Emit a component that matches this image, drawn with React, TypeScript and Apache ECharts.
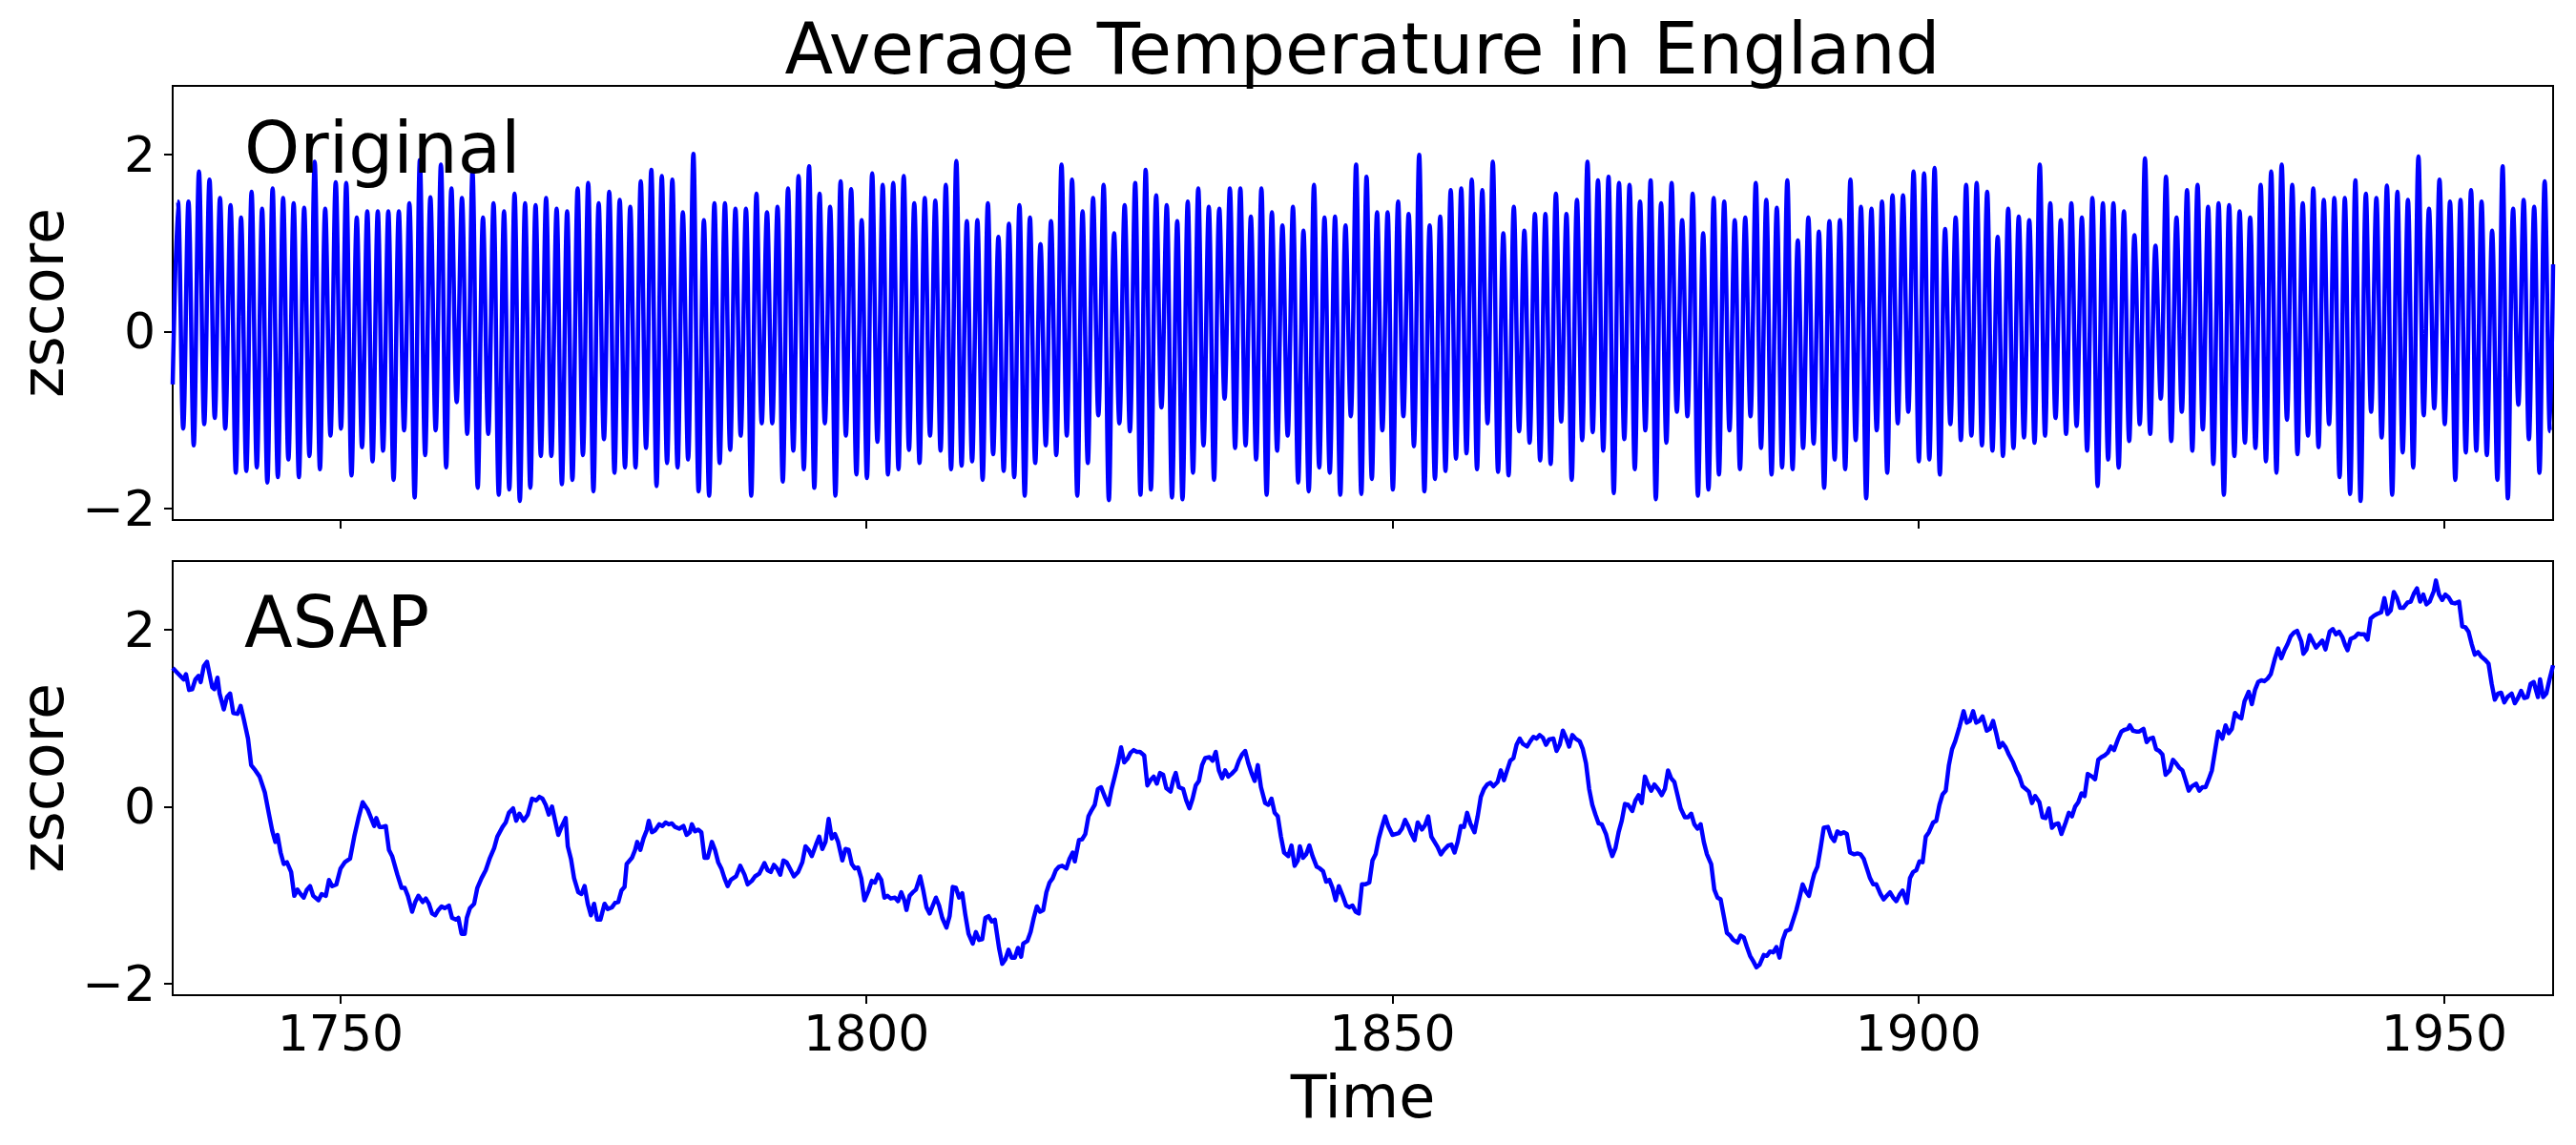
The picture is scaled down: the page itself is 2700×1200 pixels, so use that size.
import React, { useEffect, useRef } from "react";
import * as echarts from "echarts";

const FONT = '"DejaVu Sans", "Liberation Sans", sans-serif';
const TITLE = "Average Temperature in England";
const PANEL_LABELS = ["Original", "ASAP"];
const X_LABEL = "Time";
const Y_LABEL = "zscore";
const X_TICKS = [1750, 1800, 1850, 1900, 1950];
const Y_TICKS = [-2, 0, 2];
const X_MIN = 1734.04;
const X_MAX = 1960.34;
const Y_MIN = -2.135;
const Y_MAX = 2.78;

// Original monthly series: yearly summer maxima (1734..1959) and winter minima (1735..1960)
const originalStart = -0.6;
const originalEnd = 0.76;
const firstPeakYear = 1734;
const summerPeaks = [
  1.47, 1.47, 1.81, 1.72, 1.51, 1.43, 1.29, 1.58, 1.39, 1.62, 1.51, 1.45, 1.40, 1.92, 1.39, 1.69, 1.68, 1.29, 1.36, 1.36,
  1.36, 1.36, 1.45, 1.94, 1.52, 1.89, 1.62, 1.51, 1.81, 1.29, 1.45, 1.36, 1.56, 1.45, 1.43, 1.51, 1.39, 1.36, 1.62, 1.68,
  1.45, 1.58, 1.49, 1.41, 1.70,
  1.83, 1.76, 1.72, 1.35, 2.01, 1.26, 1.45, 1.45, 1.39, 1.39, 1.56, 1.35, 1.41, 1.62, 1.76, 1.87, 1.56, 1.41, 1.70, 1.61,
  1.26, 1.79, 1.66, 1.68, 1.76, 1.45, 1.51, 1.48, 1.66, 1.93, 1.25, 1.26, 1.45, 1.07, 1.22, 1.43, 1.29, 0.99, 1.25, 1.89,
  1.72, 1.36, 1.51, 1.66, 1.11,
  1.43, 1.68, 1.83, 1.54, 1.43, 1.25, 1.47, 1.62, 1.41, 1.39, 1.62, 1.62, 1.30, 1.62, 1.35, 1.20, 1.41, 1.14, 1.66, 1.29,
  1.30, 1.20, 1.89, 1.75, 1.35, 1.35, 1.47, 1.33, 2.00, 1.20, 1.30, 1.60, 1.62, 1.72, 1.60, 1.92, 1.11, 1.41, 1.14, 1.33,
  1.33, 1.56, 1.33, 1.49, 1.92,
  1.71, 1.75, 1.68, 1.66, 1.47, 1.71, 1.45, 1.68, 1.26, 1.56, 1.11, 1.51, 1.47, 1.26, 1.29, 1.68, 1.49, 1.40, 1.71, 1.03,
  1.29, 1.13, 1.25, 1.26, 1.72, 1.41, 1.39, 1.47, 1.54, 1.54, 1.81, 1.79, 1.85, 1.16, 1.29, 1.66, 1.68, 1.58, 1.07, 1.39,
  1.30, 1.26, 1.89, 1.45,
  1.26, 1.45, 1.29, 1.51, 1.45, 1.45, 1.36, 1.09, 1.96, 0.97, 1.75, 1.29, 1.60, 1.66, 1.41, 1.45, 1.43, 1.36, 1.29, 1.66,
  1.81, 1.89, 1.66, 1.45, 1.62, 1.49, 1.51, 1.51, 1.71, 1.56, 1.51, 1.65, 1.58, 1.49, 1.98, 1.39, 1.72, 1.47, 1.49, 1.60,
  1.47, 1.14, 1.87, 1.39, 1.49, 1.41, 1.70,
];
const winterTroughs = [
  -1.10, -1.29, -1.05, -0.98, -1.10, -1.60, -1.58, -1.54, -1.71, -1.65, -1.45, -1.65, -1.41, -1.56, -1.18, -1.10, -1.63, -1.31, -1.47, -1.35,
  -1.68, -1.12, -1.88, -1.40, -1.12, -1.54, -0.80, -1.16, -1.77, -1.16, -1.85, -1.79, -1.92, -1.77, -1.41, -1.41, -1.73, -1.68, -1.40, -1.81,
  -1.22, -1.60, -1.54, -1.54,
  -1.32, -1.75, -1.49, -1.54, -1.45, -1.81, -1.86, -1.49, -1.34, -1.18, -1.86, -1.04, -1.04, -1.70, -1.35, -1.56, -1.77, -1.04, -1.86, -1.18,
  -1.62, -1.66, -1.25, -1.62, -1.56, -1.34, -1.49, -1.18, -1.35, -1.56, -1.52, -1.47, -1.68, -1.39, -1.58, -1.65, -1.86, -1.49, -1.29, -1.40,
  -1.18, -1.86, -1.49, -0.95, -1.91,
  -1.04, -1.13, -1.85, -1.79, -0.86, -1.88, -1.90, -1.60, -1.29, -1.68, -0.76, -1.32, -1.29, -1.45, -1.85, -1.35, -1.18, -1.71, -1.81, -1.54,
  -1.60, -1.85, -0.96, -1.84, -1.67, -1.12, -1.79, -0.96, -1.30, -1.81, -1.67, -1.58, -1.44, -1.38, -1.56, -1.04, -1.59, -1.63, -1.13, -1.26,
  -1.46, -1.50, -1.02, -1.68, -1.23,
  -1.14, -1.35, -1.83, -1.22, -1.56, -1.12, -1.90, -1.26, -0.91, -0.96, -1.86, -1.79, -1.62, -1.12, -1.56, -0.96, -1.32, -1.62, -1.54, -1.56,
  -1.32, -1.27, -1.77, -1.45, -1.56, -1.23, -1.89, -1.12, -1.60, -1.04, -0.91, -1.47, -1.45, -1.62, -1.05, -1.23, -1.18, -1.29, -1.35, -1.41,
  -1.32, -1.20, -1.26, -1.18, -0.98,
  -1.16, -1.07, -1.35, -1.75, -1.45, -1.54, -1.24, -1.05, -1.16, -0.76, -1.24, -0.91, -1.35, -1.11, -1.50, -1.85, -1.41, -1.26, -1.32, -1.47,
  -1.60, -1.00, -1.39, -1.18, -1.31, -1.05, -1.65, -1.84, -1.92, -0.91, -1.20, -1.85, -1.37, -1.54, -0.95, -0.87, -1.05, -1.68, -1.37, -1.35,
  -1.40, -1.68, -1.89, -0.83, -1.22, -1.60, -1.13,
];

// ASAP smoothed series: [year, zscore]
const asapPoints: [number, number][] = [
  [1734.04, 1.57], [1734.6, 1.50], [1735.1, 1.44], [1735.3, 1.50], [1735.6, 1.32], [1735.9, 1.33], [1736.2, 1.44], [1736.5, 1.48],
  [1736.7, 1.41], [1737.0, 1.59], [1737.3, 1.64], [1737.8, 1.35], [1738.0, 1.33], [1738.3, 1.46], [1738.5, 1.28], [1738.9, 1.10],
  [1739.2, 1.24], [1739.5, 1.28], [1739.8, 1.06], [1740.2, 1.05], [1740.5, 1.14], [1740.8, 0.99], [1741.2, 0.77], [1741.5, 0.47],
  [1741.9, 0.41], [1742.3, 0.34], [1742.8, 0.16], [1743.2, -0.09], [1743.5, -0.27], [1743.8, -0.40], [1744.0, -0.32], [1744.3, -0.52],
  [1744.6, -0.65], [1744.9, -0.63], [1745.3, -0.74], [1745.6, -1.01], [1745.9, -0.94], [1746.2, -0.99], [1746.5, -1.03], [1746.8, -0.94],
  [1747.1, -0.90], [1747.4, -1.01], [1747.9, -1.06], [1748.2, -0.99], [1748.6, -1.01], [1748.9, -0.83], [1749.2, -0.90], [1749.6, -0.88],
  [1750.0, -0.70], [1750.4, -0.63], [1750.9, -0.59], [1751.3, -0.34], [1751.7, -0.13], [1752.1, 0.05], [1752.6, -0.04], [1752.9, -0.13],
  [1753.2, -0.22], [1753.4, -0.13], [1753.7, -0.23], [1754.0, -0.23], [1754.3, -0.22], [1754.6, -0.49], [1754.9, -0.56], [1755.4, -0.77],
  [1755.8, -0.92], [1756.1, -0.92], [1756.4, -1.01], [1756.8, -1.19], [1757.1, -1.08], [1757.4, -1.01], [1757.8, -1.08], [1758.1, -1.04],
  [1758.4, -1.10], [1758.7, -1.21], [1759.0, -1.23], [1759.3, -1.17], [1759.6, -1.13], [1759.9, -1.15], [1760.3, -1.12], [1760.6, -1.26],
  [1761.0, -1.28], [1761.2, -1.26], [1761.5, -1.44], [1761.8, -1.44], [1762.0, -1.26], [1762.3, -1.15], [1762.7, -1.10], [1763.0, -0.92],
  [1763.4, -0.81], [1763.8, -0.72], [1764.2, -0.58], [1764.6, -0.47], [1764.9, -0.34], [1765.4, -0.23], [1765.7, -0.18], [1766.0, -0.07],
  [1766.4, -0.02], [1766.7, -0.16], [1767.0, -0.08], [1767.4, -0.16], [1767.8, -0.09], [1768.2, 0.09], [1768.6, 0.07], [1768.9, 0.11],
  [1769.2, 0.09], [1769.5, 0.02], [1769.8, -0.09], [1770.1, 0.00], [1770.4, -0.16], [1770.7, -0.32], [1771.0, -0.23], [1771.4, -0.13],
  [1771.6, -0.45], [1771.9, -0.59], [1772.2, -0.81], [1772.6, -0.97], [1772.9, -0.99], [1773.2, -0.90], [1773.5, -1.10], [1773.8, -1.23],
  [1774.1, -1.10], [1774.4, -1.28], [1774.7, -1.28], [1775.1, -1.10], [1775.4, -1.16], [1775.8, -1.14], [1776.1, -1.09], [1776.4, -1.08],
  [1776.7, -0.95], [1777.0, -0.91], [1777.2, -0.65], [1777.7, -0.58], [1778.0, -0.49], [1778.2, -0.40], [1778.5, -0.49], [1778.8, -0.36],
  [1779.1, -0.27], [1779.3, -0.16], [1779.6, -0.29], [1779.9, -0.27], [1780.3, -0.20], [1780.6, -0.22], [1780.9, -0.18], [1781.2, -0.20],
  [1781.5, -0.19], [1781.8, -0.23], [1782.2, -0.25], [1782.6, -0.22], [1782.9, -0.32], [1783.2, -0.29], [1783.4, -0.20], [1783.7, -0.28],
  [1784.0, -0.26], [1784.3, -0.29], [1784.6, -0.58], [1784.9, -0.58], [1785.3, -0.40], [1785.6, -0.49], [1785.9, -0.63], [1786.2, -0.70],
  [1786.5, -0.81], [1786.8, -0.90], [1787.1, -0.83], [1787.6, -0.79], [1788.0, -0.67], [1788.4, -0.77], [1788.7, -0.88], [1789.1, -0.84],
  [1789.4, -0.79], [1789.8, -0.76], [1790.3, -0.64], [1790.6, -0.72], [1790.9, -0.74], [1791.2, -0.66], [1791.5, -0.70], [1791.8, -0.77],
  [1792.1, -0.61], [1792.4, -0.63], [1792.8, -0.72], [1793.1, -0.79], [1793.5, -0.74], [1793.9, -0.63], [1794.2, -0.45], [1794.5, -0.49],
  [1794.8, -0.56], [1795.2, -0.43], [1795.5, -0.34], [1795.8, -0.48], [1796.1, -0.40], [1796.4, -0.14], [1796.7, -0.36], [1797.0, -0.31],
  [1797.3, -0.40], [1797.7, -0.61], [1798.0, -0.48], [1798.3, -0.49], [1798.6, -0.65], [1798.9, -0.70], [1799.2, -0.69], [1799.5, -0.81],
  [1799.8, -1.06], [1800.2, -0.95], [1800.5, -0.84], [1800.8, -0.86], [1801.1, -0.77], [1801.4, -0.83], [1801.7, -1.03], [1802.0, -1.01],
  [1802.3, -1.04], [1802.7, -1.03], [1803.0, -1.07], [1803.3, -0.97], [1803.6, -1.06], [1803.8, -1.17], [1804.1, -1.01], [1804.4, -0.97],
  [1804.7, -0.94], [1805.1, -0.79], [1805.4, -0.95], [1805.7, -1.14], [1806.0, -1.21], [1806.3, -1.12], [1806.6, -1.03], [1806.9, -1.12],
  [1807.2, -1.26], [1807.6, -1.37], [1807.9, -1.24], [1808.2, -0.91], [1808.5, -0.92], [1808.8, -1.03], [1809.1, -0.98], [1809.4, -1.23],
  [1809.7, -1.44], [1810.1, -1.55], [1810.4, -1.42], [1810.7, -1.51], [1811.0, -1.50], [1811.3, -1.26], [1811.6, -1.24], [1811.9, -1.30],
  [1812.2, -1.28], [1812.6, -1.60], [1812.9, -1.78], [1813.2, -1.73], [1813.5, -1.62], [1813.8, -1.71], [1814.1, -1.71], [1814.4, -1.60],
  [1814.7, -1.70], [1814.9, -1.55], [1815.3, -1.52], [1815.6, -1.42], [1815.9, -1.26], [1816.2, -1.13], [1816.5, -1.19], [1816.8, -1.17],
  [1817.1, -0.97], [1817.4, -0.86], [1817.7, -0.81], [1818.0, -0.72], [1818.3, -0.68], [1818.6, -0.67], [1819.0, -0.70], [1819.3, -0.59],
  [1819.6, -0.52], [1819.8, -0.62], [1820.2, -0.38], [1820.5, -0.37], [1820.8, -0.31], [1821.1, -0.11], [1821.4, -0.04], [1821.7, 0.02],
  [1822.0, 0.20], [1822.3, 0.22], [1822.7, 0.10], [1823.0, 0.02], [1823.3, 0.20], [1823.6, 0.34], [1823.9, 0.49], [1824.2, 0.67],
  [1824.5, 0.50], [1824.8, 0.54], [1825.1, 0.61], [1825.4, 0.64], [1825.7, 0.62], [1826.0, 0.62], [1826.4, 0.58], [1826.7, 0.24],
  [1827.0, 0.30], [1827.3, 0.34], [1827.6, 0.26], [1827.9, 0.38], [1828.2, 0.36], [1828.5, 0.21], [1828.9, 0.17], [1829.2, 0.32],
  [1829.4, 0.38], [1829.7, 0.22], [1830.1, 0.20], [1830.4, 0.07], [1830.7, -0.02], [1831.0, 0.09], [1831.3, 0.24], [1831.6, 0.29],
  [1831.9, 0.47], [1832.2, 0.55], [1832.6, 0.56], [1832.9, 0.52], [1833.2, 0.62], [1833.5, 0.41], [1833.8, 0.32], [1834.1, 0.41],
  [1834.4, 0.34], [1834.7, 0.37], [1835.1, 0.42], [1835.4, 0.52], [1835.7, 0.59], [1836.0, 0.63], [1836.3, 0.49], [1836.6, 0.38],
  [1836.9, 0.29], [1837.2, 0.47], [1837.5, 0.22], [1837.9, 0.04], [1838.2, 0.02], [1838.5, 0.09], [1838.8, -0.07], [1839.1, -0.11],
  [1839.4, -0.34], [1839.7, -0.52], [1840.1, -0.56], [1840.4, -0.44], [1840.7, -0.67], [1841.0, -0.61], [1841.2, -0.45], [1841.5, -0.58],
  [1841.8, -0.54], [1842.1, -0.44], [1842.4, -0.56], [1842.8, -0.68], [1843.1, -0.70], [1843.4, -0.73], [1843.7, -0.85], [1844.0, -0.83],
  [1844.3, -0.92], [1844.6, -1.06], [1844.9, -0.90], [1845.3, -1.02], [1845.6, -1.12], [1845.9, -1.14], [1846.2, -1.12], [1846.5, -1.19],
  [1846.8, -1.21], [1847.1, -0.88], [1847.4, -0.88], [1847.8, -0.86], [1848.1, -0.61], [1848.4, -0.54], [1848.7, -0.36], [1849.0, -0.23],
  [1849.3, -0.11], [1849.6, -0.22], [1850.0, -0.32], [1850.3, -0.31], [1850.6, -0.30], [1850.9, -0.25], [1851.2, -0.15], [1851.5, -0.22],
  [1851.8, -0.31], [1852.1, -0.38], [1852.4, -0.18], [1852.8, -0.26], [1853.1, -0.21], [1853.4, -0.11], [1853.7, -0.34], [1854.0, -0.40],
  [1854.3, -0.46], [1854.6, -0.54], [1854.9, -0.49], [1855.3, -0.44], [1855.6, -0.43], [1855.9, -0.52], [1856.2, -0.40], [1856.5, -0.22],
  [1856.8, -0.23], [1857.1, -0.07], [1857.4, -0.19], [1857.8, -0.29], [1858.1, -0.11], [1858.4, 0.11], [1858.7, 0.20], [1859.0, 0.25],
  [1859.3, 0.27], [1859.6, 0.23], [1860.0, 0.28], [1860.3, 0.41], [1860.6, 0.30], [1860.9, 0.41], [1861.2, 0.52], [1861.5, 0.55],
  [1861.8, 0.70], [1862.1, 0.77], [1862.4, 0.71], [1862.8, 0.68], [1863.1, 0.74], [1863.4, 0.79], [1863.7, 0.77], [1864.0, 0.81],
  [1864.3, 0.78], [1864.6, 0.70], [1864.9, 0.76], [1865.3, 0.77], [1865.6, 0.63], [1865.9, 0.70], [1866.2, 0.86], [1866.5, 0.78],
  [1866.8, 0.68], [1867.1, 0.81], [1867.4, 0.77], [1867.8, 0.74], [1868.1, 0.65], [1868.4, 0.49], [1868.7, 0.20], [1869.0, 0.02],
  [1869.3, -0.09], [1869.6, -0.19], [1869.9, -0.20], [1870.3, -0.31], [1870.6, -0.45], [1870.9, -0.56], [1871.2, -0.47], [1871.5, -0.29],
  [1871.8, -0.16], [1872.1, 0.03], [1872.4, 0.02], [1872.8, -0.05], [1873.1, 0.07], [1873.4, 0.13], [1873.7, 0.04], [1874.0, 0.34],
  [1874.3, 0.25], [1874.6, 0.18], [1874.9, 0.25], [1875.3, 0.19], [1875.6, 0.13], [1875.9, 0.20], [1876.2, 0.41], [1876.5, 0.32],
  [1876.8, 0.28], [1877.1, 0.13], [1877.4, -0.02], [1877.8, -0.12], [1878.1, -0.12], [1878.4, -0.08], [1878.7, -0.20], [1879.0, -0.25],
  [1879.3, -0.20], [1879.6, -0.40], [1879.9, -0.54], [1880.3, -0.65], [1880.6, -0.94], [1880.9, -1.03], [1881.2, -1.05], [1881.5, -1.24],
  [1881.8, -1.43], [1882.1, -1.46], [1882.4, -1.51], [1882.8, -1.54], [1883.1, -1.46], [1883.4, -1.48], [1883.7, -1.59], [1884.0, -1.69],
  [1884.3, -1.75], [1884.6, -1.82], [1884.9, -1.79], [1885.3, -1.68], [1885.6, -1.69], [1885.9, -1.64], [1886.2, -1.65], [1886.5, -1.59],
  [1886.8, -1.71], [1887.1, -1.51], [1887.4, -1.41], [1887.8, -1.39], [1888.1, -1.28], [1888.4, -1.17], [1888.7, -1.03], [1889.0, -0.88],
  [1889.3, -0.96], [1889.6, -1.01], [1889.9, -0.85], [1890.1, -0.76], [1890.4, -0.68], [1890.7, -0.47], [1891.0, -0.24], [1891.4, -0.23],
  [1891.7, -0.34], [1892.0, -0.39], [1892.3, -0.28], [1892.6, -0.31], [1892.9, -0.29], [1893.2, -0.31], [1893.5, -0.52], [1893.9, -0.54],
  [1894.2, -0.53], [1894.5, -0.54], [1894.8, -0.59], [1895.1, -0.70], [1895.4, -0.81], [1895.7, -0.88], [1896.0, -0.88], [1896.4, -0.99],
  [1896.7, -1.05], [1897.0, -1.01], [1897.3, -0.97], [1897.6, -1.03], [1897.9, -1.07], [1898.2, -1.00], [1898.5, -0.95], [1898.9, -1.09],
  [1899.2, -0.81], [1899.5, -0.74], [1899.8, -0.72], [1900.1, -0.62], [1900.4, -0.63], [1900.7, -0.34], [1901.0, -0.29], [1901.4, -0.18],
  [1901.7, -0.16], [1902.0, 0.02], [1902.3, 0.14], [1902.6, 0.18], [1902.9, 0.47], [1903.2, 0.65], [1903.5, 0.74], [1903.9, 0.90],
  [1904.3, 1.08], [1904.6, 0.95], [1904.9, 0.97], [1905.2, 1.08], [1905.5, 0.95], [1905.8, 0.97], [1906.1, 1.02], [1906.5, 0.86],
  [1906.8, 0.88], [1907.1, 0.97], [1907.4, 0.83], [1907.7, 0.67], [1908.0, 0.72], [1908.3, 0.67], [1908.6, 0.59], [1909.0, 0.50],
  [1909.3, 0.41], [1909.6, 0.34], [1909.9, 0.23], [1910.2, 0.20], [1910.5, 0.17], [1910.8, 0.04], [1911.1, 0.12], [1911.5, 0.05],
  [1911.8, -0.12], [1912.1, -0.13], [1912.4, -0.02], [1912.7, -0.24], [1913.0, -0.20], [1913.3, -0.19], [1913.6, -0.31], [1914.0, -0.18],
  [1914.3, -0.07], [1914.6, -0.11], [1914.9, 0.00], [1915.2, 0.05], [1915.5, 0.15], [1915.8, 0.12], [1916.1, 0.37], [1916.5, 0.34],
  [1916.8, 0.31], [1917.1, 0.53], [1917.4, 0.56], [1917.7, 0.58], [1918.0, 0.61], [1918.3, 0.68], [1918.6, 0.64], [1919.0, 0.77],
  [1919.3, 0.85], [1919.6, 0.87], [1919.9, 0.88], [1920.1, 0.92], [1920.4, 0.86], [1920.7, 0.85], [1921.0, 0.85], [1921.4, 0.88],
  [1921.7, 0.73], [1922.0, 0.77], [1922.3, 0.78], [1922.6, 0.65], [1922.9, 0.63], [1923.2, 0.59], [1923.5, 0.36], [1923.9, 0.41],
  [1924.2, 0.53], [1924.5, 0.49], [1924.8, 0.44], [1925.1, 0.41], [1925.4, 0.30], [1925.7, 0.18], [1926.0, 0.23], [1926.4, 0.26],
  [1926.7, 0.18], [1927.0, 0.22], [1927.3, 0.22], [1927.6, 0.31], [1927.9, 0.41], [1928.2, 0.63], [1928.5, 0.85], [1928.9, 0.77],
  [1929.2, 0.92], [1929.5, 0.83], [1929.8, 0.88], [1930.1, 1.06], [1930.4, 1.02], [1930.7, 1.00], [1931.0, 1.19], [1931.4, 1.30],
  [1931.7, 1.16], [1932.0, 1.32], [1932.3, 1.41], [1932.6, 1.43], [1932.9, 1.42], [1933.2, 1.45], [1933.5, 1.50], [1933.9, 1.68],
  [1934.2, 1.79], [1934.5, 1.68], [1934.8, 1.77], [1935.1, 1.84], [1935.4, 1.93], [1935.7, 1.97], [1936.0, 1.99], [1936.4, 1.87],
  [1936.6, 1.73], [1936.9, 1.78], [1937.2, 1.94], [1937.5, 1.87], [1937.8, 1.80], [1938.1, 1.84], [1938.4, 1.88], [1938.7, 1.78],
  [1939.1, 1.98], [1939.4, 2.01], [1939.7, 1.95], [1940.0, 1.98], [1940.3, 1.92], [1940.6, 1.82], [1940.8, 1.77], [1941.1, 1.90],
  [1941.5, 1.92], [1941.8, 1.96], [1942.1, 1.95], [1942.4, 1.95], [1942.7, 1.89], [1943.0, 2.13], [1943.3, 2.16], [1943.6, 2.18],
  [1944.0, 2.20], [1944.3, 2.36], [1944.6, 2.18], [1944.9, 2.22], [1945.2, 2.43], [1945.5, 2.36], [1945.8, 2.25], [1946.1, 2.25],
  [1946.5, 2.31], [1946.8, 2.32], [1947.1, 2.41], [1947.4, 2.47], [1947.7, 2.32], [1948.0, 2.40], [1948.3, 2.29], [1948.6, 2.32],
  [1949.0, 2.44], [1949.2, 2.56], [1949.5, 2.40], [1949.8, 2.34], [1950.1, 2.40], [1950.4, 2.37], [1950.7, 2.31], [1951.0, 2.30],
  [1951.4, 2.32], [1951.7, 2.04], [1952.0, 2.03], [1952.3, 1.98], [1952.6, 1.84], [1952.9, 1.72], [1953.2, 1.75], [1953.5, 1.70],
  [1953.9, 1.66], [1954.2, 1.62], [1954.5, 1.39], [1954.8, 1.21], [1955.1, 1.28], [1955.4, 1.29], [1955.7, 1.18], [1956.0, 1.24],
  [1956.4, 1.28], [1956.7, 1.17], [1957.0, 1.23], [1957.3, 1.31], [1957.6, 1.23], [1957.9, 1.24], [1958.2, 1.39], [1958.5, 1.41],
  [1958.9, 1.24], [1959.1, 1.44], [1959.4, 1.24], [1959.7, 1.28], [1960.0, 1.44], [1960.34, 1.60],
];

function buildOriginal(): [number, number][] {
  const pts: [number, number][] = [[X_MIN, originalStart]];
  for (let i = 0; i < summerPeaks.length; i++) {
    const y = firstPeakYear + i;
    pts.push([y + 0.54, summerPeaks[i]]);
    if (i < winterTroughs.length) pts.push([y + 1.04, winterTroughs[i]]);
  }
  pts.push([X_MAX, originalEnd]);
  return pts;
}

const fmtY = (v: number) => (v < 0 ? "\u2212" + Math.abs(v) : String(v));

export default function App() {
  const ref = useRef<HTMLDivElement>(null);
  useEffect(() => {
    if (!ref.current) return;
    const chart = echarts.init(ref.current, null, { renderer: "svg" });
    const L = 181, W = 2495, H = 455;
    const tops = [90, 588];
    const tick = { show: true, inside: false, length: 9, lineStyle: { color: "#000", width: 2 } };
    const grids = tops.map((t) => ({
      left: L, top: t, width: W, height: H, show: true, borderColor: "#000", borderWidth: 2,
      backgroundColor: "transparent", containLabel: false, outerBoundsMode: "none",
    }));
    const xAxes = [0, 1].map((i) => ({
      gridIndex: i, type: "value", min: X_MIN, max: X_MAX, position: "bottom",
      axisLine: { show: false, onZero: false },
      axisTick: { ...tick, customValues: X_TICKS },
      axisLabel: {
        show: i === 1, customValues: X_TICKS, margin: 14, fontSize: 52, fontFamily: FONT, color: "#000",
        formatter: (v: number) => String(v),
      },
      splitLine: { show: false },
      name: i === 1 ? X_LABEL : "", nameLocation: "middle", nameGap: 75,
      nameTextStyle: { fontSize: 62, fontFamily: FONT, color: "#000" },
    }));
    const yAxes = [0, 1].map((i) => ({
      gridIndex: i, type: "value", min: Y_MIN, max: Y_MAX, position: "left",
      axisLine: { show: false, onZero: false },
      axisTick: { ...tick, customValues: Y_TICKS },
      axisLabel: { customValues: Y_TICKS, margin: 18, fontSize: 52, fontFamily: FONT, color: "#000", formatter: fmtY },
      splitLine: { show: false },
      name: Y_LABEL, nameLocation: "middle", nameGap: 105,
      nameTextStyle: { fontSize: 62, fontFamily: FONT, color: "#000" },
    }));
    const lineStyle = { color: "#0000ff", width: 4.5, join: "round", cap: "butt" };
    chart.setOption({
      animation: false,
      backgroundColor: "#ffffff",
      grid: grids,
      xAxis: xAxes,
      yAxis: yAxes,
      series: [
        { type: "line", xAxisIndex: 0, yAxisIndex: 0, data: buildOriginal(), showSymbol: false, smooth: 0.35, lineStyle, silent: true, clip: true },
        { type: "line", xAxisIndex: 1, yAxisIndex: 1, data: asapPoints, showSymbol: false, lineStyle, silent: true, clip: true },
      ],
      graphic: [
        { type: "text", x: 1428, y: 51, style: { text: TITLE, font: `74px ${FONT}`, fill: "#000", align: "center", verticalAlign: "middle" } },
        { type: "text", x: 256, y: 155, z: 100, style: { text: PANEL_LABELS[0], font: `74px ${FONT}`, fill: "#000", align: "left", verticalAlign: "middle" } },
        { type: "text", x: 256, y: 652, z: 100, style: { text: PANEL_LABELS[1], font: `74px ${FONT}`, fill: "#000", align: "left", verticalAlign: "middle" } },
      ],
    });
    return () => chart.dispose();
  }, []);
  return <div ref={ref} style={{ position: "fixed", left: 0, top: 0, width: 2700, height: 1200, background: "#fff" }} />;
}
